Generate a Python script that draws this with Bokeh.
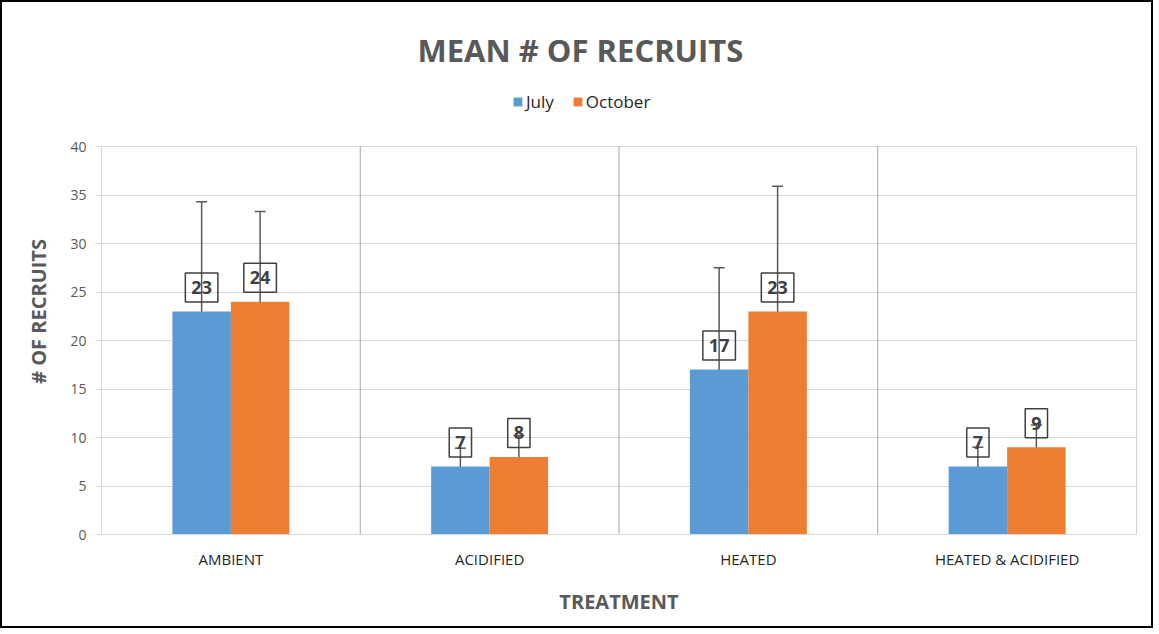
from bokeh.plotting import figure
from bokeh.models import (ColumnDataSource, Range1d, FixedTicker, Whisker, TeeHead,
                          Legend, LegendItem)
from bokeh.core.properties import value
from bokeh.embed import file_html
from bokeh.resources import INLINE

categories = ["AMBIENT", "ACIDIFIED", "HEATED", "HEATED & ACIDIFIED"]
july = [23, 7, 17, 7]
october = [24, 8, 23, 9]
july_err = [11.3, 1.9, 10.5, 2.0]
october_err = [9.3, 2.2, 12.9, 2.3]
y_ticks = [0, 5, 10, 15, 20, 25, 30, 35, 40]

BLUE = "#5B9BD5"
ORANGE = "#ED7D31"
FONT = "Open Sans"
BAR_W = 0.226

# layout: plot area 388px for 0..40, extra 58px headroom for the legend
PLOT_H = 388
HEAD_H = 58
Y_MAX = y_ticks[-1]
Y_TOP = Y_MAX * (PLOT_H + HEAD_H) / PLOT_H

idx = list(range(len(categories)))
centers = [i + 0.5 for i in idx]
xj = [c - BAR_W / 2 for c in centers]
xo = [c + BAR_W / 2 for c in centers]

src_j = ColumnDataSource(dict(x=xj, top=july, lab=[str(v) for v in july],
                              upper=[v + e for v, e in zip(july, july_err)],
                              lower=[v - e for v, e in zip(july, july_err)]))
src_o = ColumnDataSource(dict(x=xo, top=october, lab=[str(v) for v in october],
                              upper=[v + e for v, e in zip(october, october_err)],
                              lower=[v - e for v, e in zip(october, october_err)]))

p = figure(frame_width=1035, frame_height=PLOT_H + HEAD_H, output_backend="svg",
           toolbar_location=None,
           x_range=Range1d(0, len(categories)), y_range=Range1d(0, Y_TOP),
           min_border_left=99, min_border_right=15, min_border_top=86, min_border_bottom=92,
           title="MEAN # OF RECRUITS")
p.styles = {"border": "2px solid #000000"}
p.outline_line_color = None
p.background_fill_color = "white"
p.border_fill_color = "white"

p.title.align = "left"
p.title.offset = 316
p.title.text_font = FONT
p.title.text_font_size = "31px"
p.title.text_font_style = "bold"
p.title.text_color = "#595959"
p.title.standoff = 35

# grids
p.ygrid.ticker = FixedTicker(ticks=y_ticks)
p.ygrid.grid_line_color = "#d9d9d9"
p.ygrid.grid_line_width = 1
p.xgrid.grid_line_color = None

# category separators (plot-area structure)
seps = [i + 1 for i in idx]
p.segment(x0=seps, y0=[y_ticks[0]] * len(seps), x1=seps, y1=[Y_MAX] * len(seps),
          line_color="#a6a6a6", line_width=1)

rj = p.vbar(x="x", top="top", width=BAR_W, source=src_j, fill_color=BLUE, line_color=None)
ro = p.vbar(x="x", top="top", width=BAR_W, source=src_o, fill_color=ORANGE, line_color=None)

# y axis
p.yaxis.ticker = FixedTicker(ticks=y_ticks)
p.yaxis.bounds = (y_ticks[0], Y_MAX)
p.yaxis.axis_line_color = "#d9d9d9"
p.yaxis.major_tick_line_color = "#d9d9d9"
p.yaxis.major_tick_out = 5
p.yaxis.major_tick_in = 0
p.yaxis.minor_tick_line_color = None
p.yaxis.major_label_text_font = FONT
p.yaxis.major_label_text_font_size = "14px"
p.yaxis.major_label_text_color = "#595959"
p.yaxis.major_label_standoff = 10
p.yaxis.axis_label = "# OF RECRUITS"
p.yaxis.axis_label_text_font = FONT
p.yaxis.axis_label_text_font_size = "20px"
p.yaxis.axis_label_text_font_style = "bold"
p.yaxis.axis_label_text_color = "#595959"
p.yaxis.axis_label_standoff = 15

# x axis
p.xaxis.ticker = FixedTicker(ticks=centers)
p.xaxis.major_label_overrides = {c: name for c, name in zip(centers, categories)}
p.xaxis.axis_line_color = "#d9d9d9"
p.xaxis.major_tick_line_color = None
p.xaxis.minor_tick_line_color = None
p.xaxis.major_label_text_font = FONT
p.xaxis.major_label_text_font_size = "15px"
p.xaxis.major_label_text_color = "#262626"
p.xaxis.major_label_standoff = 8
p.xaxis.axis_label = "TREATMENT"
p.xaxis.axis_label_text_font = FONT
p.xaxis.axis_label_text_font_size = "20px"
p.xaxis.axis_label_text_font_style = "bold"
p.xaxis.axis_label_text_color = "#595959"
p.xaxis.axis_label_standoff = 16

# data labels (boxed)
for src in (src_j, src_o):
    p.text(x="x", y="top", text="lab", source=src, y_offset=-24,
           text_align="center", text_baseline="middle",
           text_font=value(FONT), text_font_size="18px", text_font_style="bold",
           text_color="#404040", border_line_color="#404040", border_line_width=1.5,
           background_fill_color=None, padding=dict(x=6, y=8))

# error bars
for src in (src_j, src_o):
    p.add_layout(Whisker(base="x", upper="upper", lower="lower", source=src, dimension="height",
                         line_color="#595959", line_width=1.5,
                         upper_head=TeeHead(size=11, line_color="#595959", line_width=1.5),
                         lower_head=TeeHead(size=11, line_color="#595959", line_width=1.5)))

legend = Legend(items=[LegendItem(label="July", renderers=[rj]),
                       LegendItem(label="October", renderers=[ro])],
                orientation="horizontal", location=(411, 421),
                glyph_width=11, glyph_height=11, label_standoff=3, spacing=18,
                padding=0, margin=0, border_line_color=None, background_fill_alpha=0,
                label_text_font=FONT, label_text_font_size="17px", label_text_color="#262626")
p.add_layout(legend)

open("out.html", "w").write(file_html(p, INLINE))
